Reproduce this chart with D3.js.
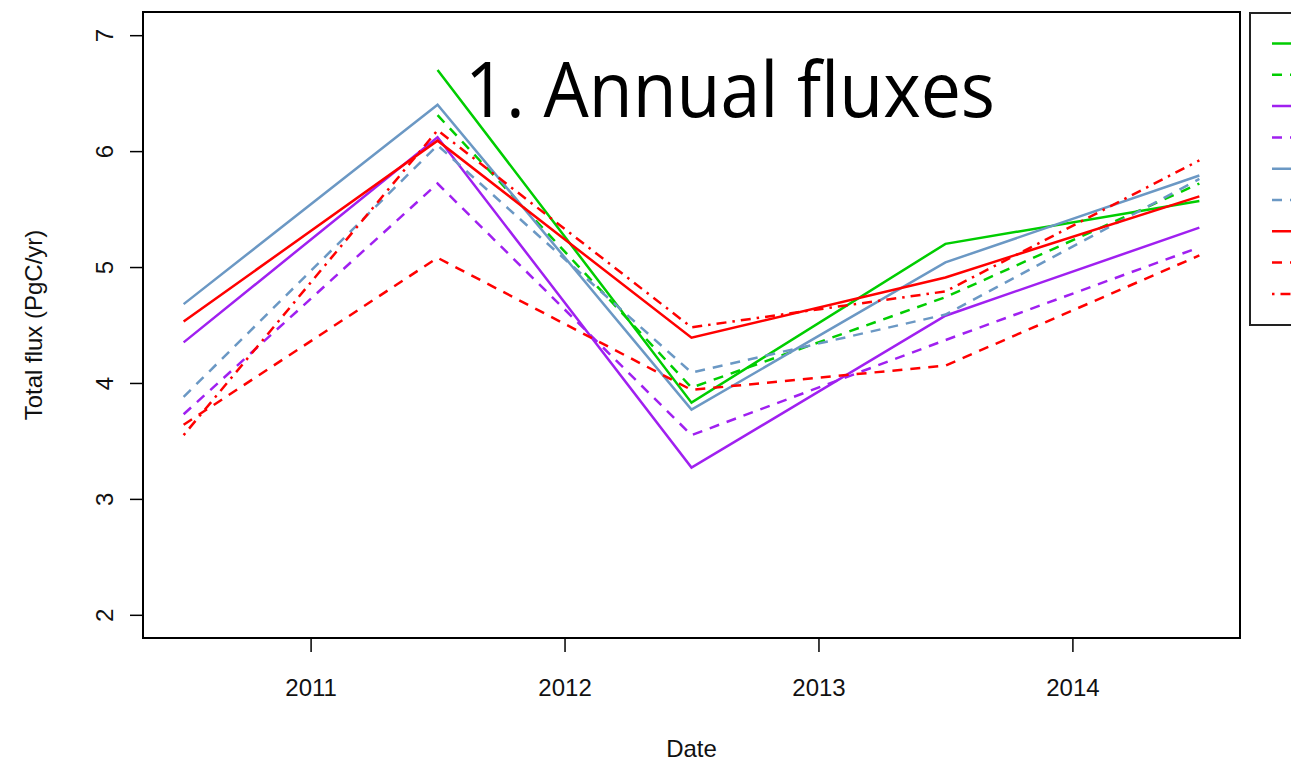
<!DOCTYPE html>
<html>
<head>
<meta charset="utf-8">
<script src="https://cdn.jsdelivr.net/npm/d3@7"></script>
<style>
  body { margin: 0; background: #fff; overflow: hidden; }
  svg { display: block; }
</style>
</head>
<body>
<div id="viz"></div>
<script>
// mid-year points
var years = [2010.5, 2011.5, 2012.5, 2013.5, 2014.5];
var xTicks = [2011, 2012, 2013, 2014];
var yTicks = [2, 3, 4, 5, 6, 7];

var greenSolid   = [null, 6.70, 3.83, 5.20, 5.57];
var greenDashed  = [null, 6.31, 3.96, 4.74, 5.72];
var purpleSolid  = [4.35, 6.12, 3.27, 4.58, 5.34];
var purpleDashed = [3.73, 5.72, 3.55, 4.37, 5.17];
var blueSolid    = [4.68, 6.40, 3.77, 5.04, 5.79];
var blueDashed   = [3.88, 6.05, 4.09, 4.59, 5.76];
var redSolid     = [4.53, 6.09, 4.39, 4.91, 5.61];
var redDashed    = [3.64, 5.08, 3.94, 4.15, 5.10];
var redDotDash   = [3.55, 6.18, 4.48, 4.79, 5.92];

var series = [
  { values: greenSolid,   color: '#00cd00', dash: null },
  { values: greenDashed,  color: '#00cd00', dash: '10,8' },
  { values: purpleSolid,  color: '#a020f0', dash: null },
  { values: purpleDashed, color: '#a020f0', dash: '10,8' },
  { values: blueSolid,    color: '#6b98c4', dash: null },
  { values: blueDashed,   color: '#6b98c4', dash: '10,8' },
  { values: redSolid,     color: '#ff0000', dash: null },
  { values: redDashed,    color: '#ff0000', dash: '10,8' },
  { values: redDotDash,   color: '#ff0000', dash: '2.5,6,10,6' }
];

// note: "top" is taken by window.top, so use plot* names
var width = 1291,
    height = 762,
    plotLeft = 143, plotRight = 1240, plotTop = 12, plotBottom = 638;

var svg = d3.select('#viz').append('svg')
    .attr('width', width)
    .attr('height', height)
    .style('background', '#fff');

var x = d3.scaleLinear()
    .domain([2010.34, 2014.66])
    .range([plotLeft, plotRight]);

var y = d3.scaleLinear()
    .domain([1.8, 7.2])
    .range([plotBottom, plotTop]);

// x axis
var xAxis = svg.append('g')
    .attr('transform', 'translate(0,' + plotBottom + ')')
    .call(d3.axisBottom(x).tickValues(xTicks).tickFormat(d3.format('d'))
      .tickSize(14).tickPadding(27));
xAxis.select('.domain').remove();
xAxis.selectAll('line').attr('stroke', '#000').attr('stroke-width', 1.5);
xAxis.selectAll('text')
    .style('font-family', 'Liberation Sans, Arial, sans-serif')
    .style('font-size', '24px')
    .attr('fill', '#111');

// y axis, labels parallel to the axis
var yAxis = svg.append('g')
    .attr('transform', 'translate(' + plotLeft + ',0)')
    .call(d3.axisLeft(y).tickValues(yTicks).tickFormat(d3.format('d'))
      .tickSize(13).tickPadding(0));
yAxis.select('.domain').remove();
yAxis.selectAll('line').attr('stroke', '#000').attr('stroke-width', 1.5);
yAxis.selectAll('text')
    .attr('x', null)
    .attr('text-anchor', 'middle')
    .attr('transform', 'translate(-38,0) rotate(-90)')
    .attr('dy', '0.35em')
    .style('font-family', 'Liberation Sans, Arial, sans-serif')
    .style('font-size', '24px')
    .attr('fill', '#111');

// plot box
svg.append('rect')
    .attr('x', plotLeft).attr('y', plotTop)
    .attr('width', plotRight - plotLeft).attr('height', plotBottom - plotTop)
    .attr('fill', 'none')
    .attr('stroke', '#000')
    .attr('stroke-width', 2);

// axis titles
svg.append('text')
    .attr('x', (plotLeft + plotRight) / 2)
    .attr('y', 757)
    .attr('text-anchor', 'middle')
    .style('font-family', 'Liberation Sans, Arial, sans-serif')
    .style('font-size', '24px')
    .attr('fill', '#111')
    .text('Date');

svg.append('text')
    .attr('transform', 'translate(42,' + (plotTop + plotBottom) / 2 + ') rotate(-90)')
    .attr('text-anchor', 'middle')
    .style('font-family', 'Liberation Sans, Arial, sans-serif')
    .style('font-size', '24px')
    .attr('fill', '#111')
    .text('Total flux (PgC/yr)');

// lines
var line = d3.line()
    .defined(function(d) { return d != null; })
    .x(function(d, i) { return x(years[i]); })
    .y(function(d) { return y(d); });

svg.append('g').selectAll('path')
    .data(series)
    .enter().append('path')
      .attr('d', function(d) { return line(d.values); })
      .attr('fill', 'none')
      .attr('stroke', function(d) { return d.color; })
      .attr('stroke-width', 2.5)
      .attr('stroke-dasharray', function(d) { return d.dash; });

// legend (its text runs off the page)
var legend = svg.append('g');
legend.append('rect')
    .attr('x', 1250).attr('y', 13)
    .attr('width', 200).attr('height', 312)
    .attr('fill', '#fff')
    .attr('stroke', '#222')
    .attr('stroke-width', 2);
legend.selectAll('line')
    .data(series)
    .enter().append('line')
      .attr('x1', 1272).attr('x2', 1310)
      .attr('y1', function(d, i) { return 43.5 + i * 31.3; })
      .attr('y2', function(d, i) { return 43.5 + i * 31.3; })
      .attr('stroke', function(d) { return d.color; })
      .attr('stroke-width', 2.5)
      .attr('stroke-dasharray', function(d) { return d.dash; });

// slide title
svg.append('text')
    .attr('x', 465)
    .attr('y', 117)
    .attr('textLength', 530)
    .attr('lengthAdjust', 'spacingAndGlyphs')
    .style('font-family', 'Open Sans, Noto Sans, sans-serif')
    .style('font-size', '76px')
    .attr('fill', '#000')
    .text('1. Annual fluxes');
</script>
</body>
</html>
